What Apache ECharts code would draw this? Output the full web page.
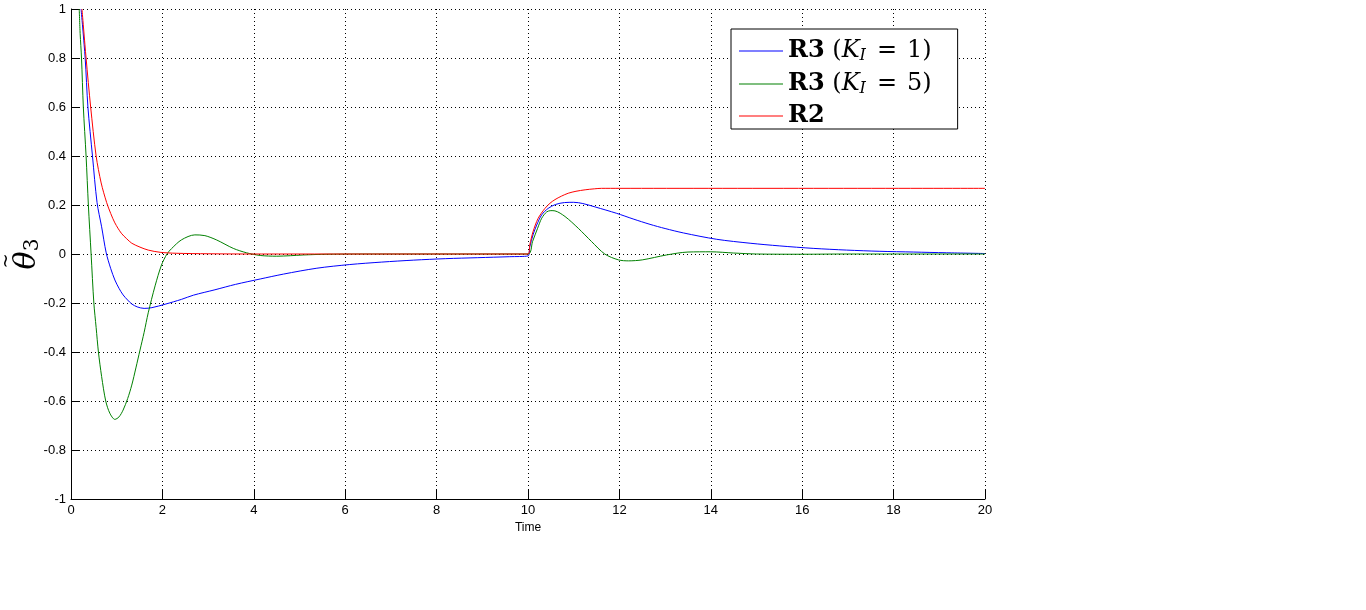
<!DOCTYPE html>
<html>
<head>
<meta charset="utf-8">
<script src="https://cdn.jsdelivr.net/npm/echarts@6/dist/echarts.min.js"></script>
<style>
html,body{margin:0;padding:0;background:#fff;}
#chart{width:1366px;height:610px;}
</style>
</head>
<body>
<div id="chart"></div>
<script>
// ---- data ----
const xTicks = [0, 2, 4, 6, 8, 10, 12, 14, 16, 18, 20];
const yTicks = [-1, -0.8, -0.6, -0.4, -0.2, 0, 0.2, 0.4, 0.6, 0.8, 1];

const seriesNames = ['R3 (K_I = 1)', 'R3 (K_I = 5)', 'R2'];

// R3 (K_I = 1) — blue
const r3k1Time = [0.22, 0.31, 0.37, 0.47, 0.57, 0.67, 0.77, 0.87, 0.96, 1.05, 1.14, 1.24, 1.33, 1.45, 1.6, 1.77, 2.06, 2.42, 2.68, 3.15, 3.6, 4.14, 4.65, 5.38, 6.1, 6.8, 7.5, 8.2, 8.9, 9.6, 10.0,
  10.04, 10.11, 10.19, 10.3, 10.44, 10.6, 10.8, 11.0, 11.2, 11.47, 11.94, 12.3, 12.67, 13.0, 13.4, 14.13, 14.86, 15.51, 16.24, 16.97, 17.7, 18.43, 19.16, 20.0];
const r3k1Value = [1.0, 0.8, 0.6, 0.4, 0.21, 0.111, 0.005, -0.06, -0.106, -0.14, -0.167, -0.188, -0.204, -0.216, -0.222, -0.219, -0.205, -0.185, -0.168, -0.146, -0.124, -0.102, -0.082, -0.058, -0.043, -0.033, -0.025, -0.019, -0.015, -0.011, -0.008,
  0.03, 0.078, 0.118, 0.16, 0.186, 0.202, 0.21, 0.211, 0.206, 0.192, 0.166, 0.143, 0.121, 0.104, 0.086, 0.06, 0.044, 0.033, 0.023, 0.016, 0.011, 0.008, 0.005, 0.002];

// R3 (K_I = 5) — green
const r3k5Time = [0.18, 0.2, 0.23, 0.27, 0.33, 0.38, 0.44, 0.5, 0.55, 0.6, 0.67, 0.76, 0.85, 0.96, 1.05, 1.14, 1.24, 1.33, 1.42, 1.51, 1.6, 1.69, 1.84, 1.98, 2.1, 2.2, 2.42, 2.71, 2.93, 3.19, 3.55, 3.84, 4.14, 4.5, 4.8, 5.08, 5.6, 6.5, 10.0,
  10.1, 10.21, 10.3, 10.41, 10.5, 10.59, 10.81, 11.1, 11.39, 11.68, 11.98, 12.2, 12.5, 13.03, 13.5, 14.0, 14.5, 15.0, 16.0, 17.0, 20.0];
const r3k5Value = [1.0, 0.9, 0.8, 0.6, 0.4, 0.2, 0.0, -0.2, -0.3, -0.4, -0.5, -0.6, -0.65, -0.675, -0.665, -0.637, -0.59, -0.535, -0.465, -0.392, -0.32, -0.24, -0.13, -0.045, 0.0, 0.022, 0.058, 0.078, 0.075, 0.057, 0.023, 0.005, -0.006, -0.009, -0.007, -0.004, -0.001, 0.0, 0.0,
  0.051, 0.105, 0.146, 0.172, 0.177, 0.176, 0.153, 0.105, 0.051, 0.0, -0.024, -0.028, -0.024, -0.004, 0.008, 0.009, 0.004, 0.0, -0.001, 0.0, 0.0];

// R2 — red
const r2Time = [0.24, 0.33, 0.43, 0.55, 0.66, 0.78, 0.87, 0.96, 1.1, 1.22, 1.33, 1.51, 1.69, 1.95, 2.3, 3.0, 4.0, 10.0,
  10.04, 10.11, 10.22, 10.37, 10.48, 10.59, 10.73, 10.88, 11.05, 11.25, 11.45, 11.61, 12.0, 20.0];
const r2Value = [1.0, 0.8, 0.6, 0.4, 0.29, 0.21, 0.165, 0.127, 0.085, 0.062, 0.044, 0.028, 0.016, 0.007, 0.003, 0.001, 0.0, 0.0,
  0.038, 0.091, 0.145, 0.186, 0.207, 0.222, 0.236, 0.248, 0.256, 0.262, 0.266, 0.268, 0.268, 0.268];

const pair = (t, v) => t.map((x, i) => [x, v[i]]);

const chart = echarts.init(document.getElementById('chart'), null, {renderer: 'canvas'});

const serif = '"DejaVu Serif", "Liberation Serif", serif';
const FS = 24;
const LH = 27;
const legendRich = {
  b: {fontFamily: serif, fontWeight: 'bold', fontSize: FS, color: '#000', lineHeight: LH},
  n: {fontFamily: serif, fontSize: FS, color: '#000', lineHeight: LH},
  e: {fontFamily: serif, fontSize: FS, color: '#000', lineHeight: LH, padding: [0, 10, 0, 9]},
  i: {fontFamily: serif, fontStyle: 'italic', fontSize: FS, color: '#000', lineHeight: LH},
  s: {fontFamily: serif, fontStyle: 'italic', fontSize: 16, color: '#000', lineHeight: LH, padding: [10, 2, 0, 0]}
};

function legendFmt(name) {
  if (name === seriesNames[0]) return '{b|R3} {n|(}{i|K}{s|I}{e|=}{n|1)}';
  if (name === seriesNames[1]) return '{b|R3} {n|(}{i|K}{s|I}{e|=}{n|5)}';
  return '{b|R2}';
}

const lineBase = {
  type: 'line',
  showSymbol: false,
  symbol: 'none',
  smooth: 0.3,
  animation: false,
  clip: true
};

chart.setOption({
  animation: false,
  backgroundColor: '#fff',
  grid: {left: 71, top: 9, width: 914, height: 490, containLabel: false, outerBoundsMode: 'none'},
  xAxis: {
    type: 'value',
    min: 0, max: 20, interval: 2,
    name: 'Time',
    nameLocation: 'middle',
    nameGap: 23,
    nameMoveOverlap: false,
    nameTextStyle: {fontFamily: '"Liberation Sans", Arial, sans-serif', fontSize: 12, color: '#000'},
    axisLine: {onZero: false, lineStyle: {color: '#000', width: 1}},
    axisTick: {inside: true, length: 9, lineStyle: {color: '#000'}},
    axisLabel: {
      color: '#000', fontFamily: '"Liberation Sans", Arial, sans-serif', fontSize: 13, margin: 5,
      formatter: v => xTicks.includes(v) ? String(v) : ''
    },
    splitLine: {show: true, lineStyle: {color: '#000', width: 1, type: [1, 3]}}
  },
  yAxis: {
    type: 'value',
    min: -1, max: 1, interval: 0.2,
    name: '{tl|~}\n{t|θ}{s|3}',
    nameLocation: 'middle',
    nameRotate: 90,
    nameGap: 29,
    nameMoveOverlap: false,
    nameTextStyle: {
      rich: {
        tl: {fontFamily: serif, fontSize: 18, color: '#000', lineHeight: 12, padding: [0, 14, 0, 0]},
        t: {fontFamily: serif, fontStyle: 'italic', fontSize: 30, color: '#000', lineHeight: 30},
        s: {fontFamily: serif, fontSize: 20, color: '#000', lineHeight: 30, padding: [12, 0, 0, 0]}
      }
    },
    axisLine: {onZero: false, lineStyle: {color: '#000', width: 1}},
    axisTick: {inside: true, length: 9, lineStyle: {color: '#000'}},
    axisLabel: {
      color: '#000', fontFamily: '"Liberation Sans", Arial, sans-serif', fontSize: 13, margin: 5,
      formatter: v => String(Math.round(v * 10) / 10)
    },
    splitLine: {show: true, lineStyle: {color: '#000', width: 1, type: [1, 3]}}
  },
  legend: {
    orient: 'vertical',
    left: 731, top: 29,
    data: seriesNames.map(n => ({name: n, icon: 'rect'})),
    backgroundColor: '#fff',
    borderColor: '#000',
    borderWidth: 1,
    borderRadius: 0,
    padding: [9, 26, 1, 8],
    itemGap: 7,
    itemWidth: 44,
    itemHeight: 1,
    selectedMode: false,
    formatter: legendFmt,
    textStyle: {color: '#000', fontFamily: serif, fontSize: FS, rich: legendRich}
  },
  series: [
    Object.assign({}, lineBase, {name: seriesNames[0], data: pair(r3k1Time, r3k1Value), color: '#0000ff', lineStyle: {color: '#0000ff', width: 1}}),
    Object.assign({}, lineBase, {name: seriesNames[1], data: pair(r3k5Time, r3k5Value), color: '#008000', lineStyle: {color: '#008000', width: 1}}),
    Object.assign({}, lineBase, {name: seriesNames[2], data: pair(r2Time, r2Value), color: '#ff0000', lineStyle: {color: '#ff0000', width: 1}})
  ]
});
</script>
</body>
</html>
